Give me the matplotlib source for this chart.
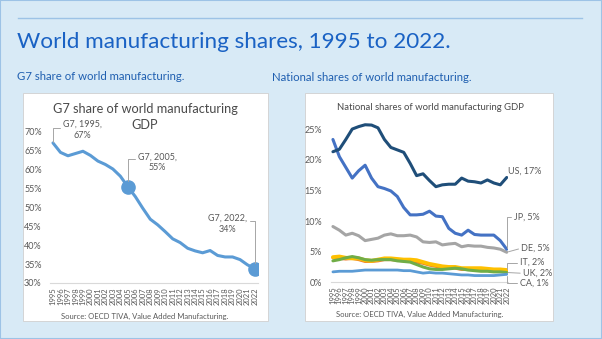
import matplotlib
matplotlib.use("Agg")
import matplotlib.pyplot as plt
from matplotlib.patches import Rectangle
from matplotlib.lines import Line2D

years = list(range(1995, 2023))
year_labels = [str(y) for y in years]

g7_share = [67.1, 64.6, 63.7, 64.3, 64.9, 63.8, 62.3, 61.4, 60.2, 58.3, 55.5, 52.9, 49.8, 46.9,
            45.4, 43.6, 41.7, 40.7, 39.2, 38.5, 38.0, 38.6, 37.3, 36.9, 36.9, 36.2, 34.8, 33.8]

us = [21.3, 21.7, 23.3, 25.0, 25.4, 25.7, 25.65, 25.2, 23.3, 22.0, 21.6, 21.2, 19.4, 17.4,
      17.7, 16.6, 15.6, 15.9, 16.0, 16.0, 17.0, 16.5, 16.4, 16.2, 16.7, 16.2, 15.9, 17.1]
jp = [23.3, 20.5, 18.75, 17.0, 18.2, 19.1, 17.0, 15.6, 15.3, 14.9, 14.0, 12.2, 11.0, 11.0,
      11.1, 11.6, 10.8, 10.7, 8.8, 8.0, 7.7, 8.5, 7.8, 7.7, 7.7, 7.7, 6.8, 5.4]
de = [9.1, 8.5, 7.7, 8.0, 7.6, 6.8, 7.0, 7.2, 7.7, 7.9, 7.6, 7.6, 7.7, 7.4,
      6.6, 6.5, 6.6, 6.1, 6.25, 6.35, 5.8, 6.0, 5.9, 5.9, 5.7, 5.6, 5.4, 4.9]
fr = [4.0, 3.9, 3.8, 3.9, 3.7, 3.4, 3.4, 3.5, 3.7, 3.7, 3.6, 3.5, 3.4, 3.3,
      3.1, 2.8, 2.6, 2.4, 2.4, 2.3, 2.1, 2.1, 2.1, 2.1, 2.0, 1.9, 1.9, 1.8]
it = [4.1, 4.2, 4.0, 3.9, 3.9, 3.6, 3.5, 3.7, 3.9, 3.9, 3.8, 3.7, 3.7, 3.6,
      3.3, 3.0, 2.8, 2.6, 2.5, 2.5, 2.3, 2.3, 2.3, 2.3, 2.2, 2.1, 2.1, 2.0]
uk = [3.5, 3.7, 4.0, 4.2, 4.0, 3.7, 3.6, 3.7, 3.7, 3.7, 3.5, 3.4, 3.3, 2.9,
      2.5, 2.2, 2.1, 2.1, 2.2, 2.3, 2.2, 2.0, 1.9, 1.8, 1.8, 1.7, 1.7, 1.6]
ca = [1.7, 1.8, 1.8, 1.8, 1.9, 2.0, 2.0, 2.0, 2.0, 2.0, 2.0, 1.9, 1.9, 1.7,
      1.5, 1.6, 1.5, 1.5, 1.4, 1.3, 1.2, 1.2, 1.1, 1.1, 1.1, 1.1, 1.2, 1.3]

W, H = 602, 339
FONT = ["Lato", "DejaVu Sans"]
plt.rcParams['font.family'] = FONT


def fx(px):
    return px / W


def fy(py):
    return 1 - py / H


def axes_px(fig, x0, y0, x1, y1):
    return fig.add_axes([fx(x0), fy(y1), fx(x1) - fx(x0), fy(y0) - fy(y1)])


fig = plt.figure(figsize=(W / 100, H / 100), dpi=100, facecolor='#d8eaf6')
fig.add_artist(Rectangle((0, 0), 1, 1, transform=fig.transFigure, fc='none',
                         ec='#9dc3e6', lw=1.5, zorder=-2))
fig.add_artist(Line2D([fx(18), fx(582)], [fy(18), fy(18)], color='#9dc3e6', lw=1))

fig.text(fx(17), fy(42), "World manufacturing shares, 1995 to 2022.", fontsize=16.2,
         color='#1a62c4', va='center', ha='left')
fig.text(fx(17), fy(76), "G7 share of world manufacturing.", fontsize=8.2,
         color='#1f5fb0', va='center', ha='left')
fig.text(fx(272), fy(77.5), "National shares of world manufacturing.", fontsize=8.2,
         color='#1f5fb0', va='center', ha='left')

# white panels
for x0, x1 in [(23, 268), (305, 553)]:
    fig.add_artist(Rectangle((fx(x0), fy(321)), fx(x1) - fx(x0), fy(93) - fy(321),
                             transform=fig.transFigure, fc='white', ec='#d0d0d0',
                             lw=0.6, zorder=-1))

grey = '#595959'


def style_axes(ax):
    ax.set_facecolor('none')
    for s in ['top', 'right', 'left']:
        ax.spines[s].set_visible(False)
    ax.spines['bottom'].set_color('#d9d9d9')
    ax.spines['bottom'].set_linewidth(0.8)
    ax.set_xticks(years)
    ax.set_xticklabels(year_labels, rotation=90, fontsize=5.5, color=grey)
    ax.tick_params(length=0)
    ax.tick_params(axis='x', pad=3)


# ---- left chart: G7 share
ax1 = axes_px(fig, 50, 132, 258, 283)
style_axes(ax1)
ax1.plot(years, g7_share, color='#5b9bd5', lw=2.2, solid_capstyle='round')
ax1.plot([years[10], years[-1]], [g7_share[10], g7_share[-1]], ls='none', marker='o',
         ms=9.5, color='#5b9bd5')
ax1.set_xlim(1994.6, 2022.4)
ax1.set_ylim(30, 70)
ax1.set_yticks(range(30, 71, 5))
ax1.set_yticklabels([f"{v}%" for v in range(30, 71, 5)], fontsize=6.5, color=grey)
ax1.tick_params(axis='y', pad=6)

lead = dict(arrowstyle='-', color='#a6a6a6', lw=0.7, shrinkA=0)
ax1.annotate("G7, 1995,\n67%", xy=(years[0], g7_share[0]), xytext=(21, 9.5),
             textcoords='offset points', ha='center', va='center', fontsize=6.5,
             color=grey, linespacing=1.3,
             arrowprops=dict(lead, relpos=(0, 0.6), shrinkB=1,
                             connectionstyle='angle,angleA=0,angleB=90,rad=0'))
ax1.annotate("G7, 2005,\n55%", xy=(years[10], g7_share[10]), xytext=(21, 17.5),
             textcoords='offset points', ha='center', va='center', fontsize=6.5,
             color=grey, linespacing=1.3,
             arrowprops=dict(lead, relpos=(0, 0.65), shrinkB=4,
                             connectionstyle='angle,angleA=0,angleB=90,rad=0'))
ax1.annotate("G7, 2022,\n34%", xy=(years[-1], g7_share[-1]), xytext=(-20, 32.5),
             textcoords='offset points', ha='center', va='center', fontsize=6.5,
             color=grey, linespacing=1.3,
             arrowprops=dict(lead, relpos=(1, 0.65), shrinkB=4,
                             connectionstyle='angle,angleA=0,angleB=90,rad=0'))
fig.text(fx(145), fy(109), "G7 share of world manufacturing", fontsize=9.2,
         color='#4a4a4a', ha='center', va='center')
fig.text(fx(145), fy(125), "GDP", fontsize=9.2, color='#4a4a4a', ha='center', va='center')
fig.text(fx(145), fy(316.5), "Source: OECD TIVA, Value Added Manufacturing.", fontsize=5.5,
         color=grey, ha='center', va='center')

# ---- right chart: national shares
ax2 = axes_px(fig, 331, 282.3 - 26 * 6.13, 508, 282.3)
style_axes(ax2)
series = [(fr, '#ed7d31', 2.2), (it, '#ffc000', 2.8), (uk, '#70ad47', 2.2),
          (ca, '#5b9bd5', 2.0), (de, '#a5a5a5', 2.2), (jp, '#4472c4', 2.2),
          (us, '#1f4e79', 2.2)]
for vals, col, lw in series:
    ax2.plot(years, vals, color=col, lw=lw, solid_capstyle='round')
ax2.set_xlim(1994.7, 2022.2)
ax2.set_ylim(0, 26)
ax2.set_yticks(range(0, 26, 5))
ax2.set_yticklabels([f"{v}%" for v in range(0, 26, 5)], fontsize=6.5, color=grey)
ax2.tick_params(axis='y', pad=6.5)

labels = [("US, 17%", us, (1, 4.5), None),
          ("JP, 5%", jp, (5, 23.4), 'angle,angleA=0,angleB=90,rad=0'),
          ("DE, 5%", de, (10.5, 2.9), 'arc3'),
          ("IT, 2%", it, (9.4, 5.3), 'angle,angleA=0,angleB=90,rad=0'),
          ("UK, 2%", uk, (11.7, -0.6), 'arc3'),
          ("CA, 1%", ca, (9.4, -6.5), 'angle,angleA=0,angleB=90,rad=0')]
for txt, vals, off, conn in labels:
    props = None
    if conn:
        props = dict(lead, relpos=(0, 0.5), shrinkB=1, connectionstyle=conn)
    ax2.annotate(txt, xy=(years[-1], vals[-1]), xytext=off, textcoords='offset points',
                 ha='left', va='center', fontsize=6.5, color=grey, arrowprops=props)

fig.text(fx(430), fy(107), "National shares of world manufacturing GDP", fontsize=6.8,
         color='#4a4a4a', ha='center', va='center')
fig.text(fx(420), fy(314), "Source: OECD TIVA, Value Added Manufacturing.", fontsize=5.5,
         color=grey, ha='center', va='center')

fig.savefig("out.png", dpi=100, facecolor=fig.get_facecolor())
